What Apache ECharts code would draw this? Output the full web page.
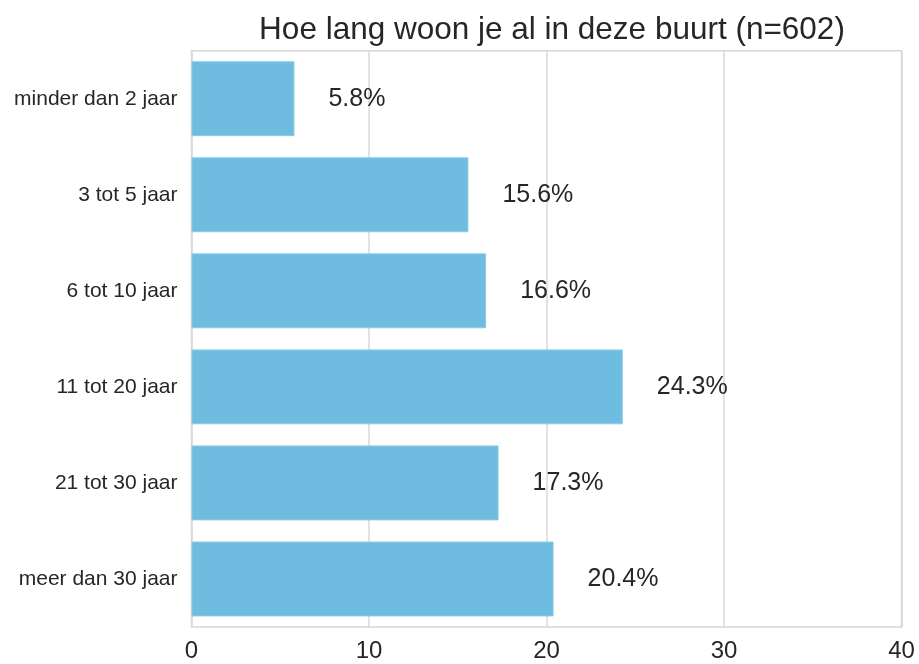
<!DOCTYPE html>
<html>
<head>
<meta charset="utf-8">
<script src="https://cdn.jsdelivr.net/npm/echarts@6/dist/echarts.min.js"></script>
<style>
  html, body { margin: 0; padding: 0; background: #fff; }
  #chart { width: 919px; height: 664px; }
</style>
</head>
<body>
<div id="chart"></div>
<script>
var categories = ['minder dan 2 jaar', '3 tot 5 jaar', '6 tot 10 jaar', '11 tot 20 jaar', '21 tot 30 jaar', 'meer dan 30 jaar'];
var percentages = [5.8, 15.6, 16.6, 24.3, 17.3, 20.4];
var xTicks = [0, 10, 20, 30, 40];

var font = '"Liberation Sans", Arial, sans-serif';
var chart = echarts.init(document.getElementById('chart'));

var option = {
   animation: false,
   title: {
      text: 'Hoe lang woon je al in deze buurt (n=602)',
      left: 547,
      textAlign: 'center',
      top: 9,
      textStyle: {
         fontFamily: font,
         fontSize: 31.5,
         fontWeight: 'normal',
         color: '#262626'
      }
   },
   grid: {
      left: 191.5,
      right: 17.5,
      top: 50.7,
      bottom: 37,
      show: true,
      borderColor: '#d6d6d6',
      borderWidth: 1.5
   },
   xAxis: {
      type: 'value',
      min: xTicks[0],
      max: xTicks[xTicks.length - 1],
      interval: 10,
      axisLine: { show: false },
      axisTick: { show: false },
      splitLine: { lineStyle: { color: '#d9d9d9', width: 1.5 } },
      axisLabel: {
         margin: 12,
         fontFamily: font,
         fontSize: 24,
         color: '#262626'
      }
   },
   yAxis: {
      type: 'category',
      inverse: true,
      data: categories,
      axisLine: { show: false },
      axisTick: { show: false },
      splitLine: { show: false },
      axisLabel: {
         margin: 14,
         fontFamily: font,
         fontSize: 21,
         color: '#262626'
      }
   },
   series: [{
      type: 'bar',
      data: percentages,
      barCategoryGap: '22%',
      itemStyle: {
         color: '#6ebde0',
         borderColor: '#8ccbe8',
         borderWidth: 1
      },
      label: {
         show: true,
         position: 'right',
         distance: 34,
         formatter: function(p) { return p.value.toFixed(1) + '%'; },
         fontFamily: font,
         fontSize: 25,
         color: '#262626'
      }
   }]
};

chart.setOption(option);
</script>
</body>
</html>
